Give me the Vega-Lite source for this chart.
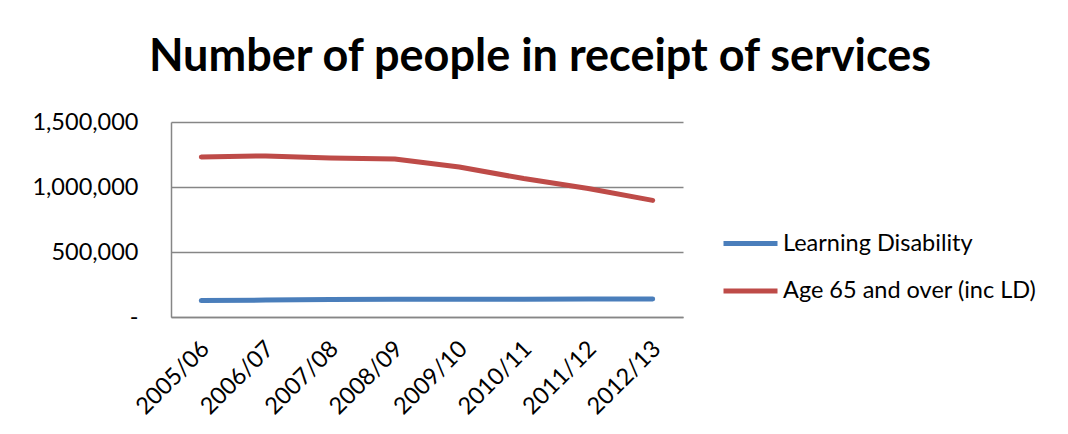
{
  "$schema": "https://vega.github.io/schema/vega-lite/v6.json",
  "width": 512,
  "height": 195,
  "autosize": {"type": "none"},
  "padding": {"left": 171, "top": 122, "right": 385, "bottom": 117},
  "background": "white",
  "title": {
    "text": "Number of people in receipt of services",
    "font": "Lato",
    "fontSize": 45,
    "fontWeight": "bold",
    "color": "black",
    "anchor": "middle",
    "frame": "group",
    "dx": 113,
    "dy": 46,
    "baseline": "alphabetic",
    "offset": 40
  },
  "data": {
    "values": [
      {"year": "2005/06", "series": "Learning Disability", "people": 126000},
      {"year": "2006/07", "series": "Learning Disability", "people": 130000},
      {"year": "2007/08", "series": "Learning Disability", "people": 134000},
      {"year": "2008/09", "series": "Learning Disability", "people": 136000},
      {"year": "2009/10", "series": "Learning Disability", "people": 136000},
      {"year": "2010/11", "series": "Learning Disability", "people": 137000},
      {"year": "2011/12", "series": "Learning Disability", "people": 138000},
      {"year": "2012/13", "series": "Learning Disability", "people": 139000},
      {"year": "2005/06", "series": "Age 65 and over (inc LD)", "people": 1231000},
      {"year": "2006/07", "series": "Age 65 and over (inc LD)", "people": 1239000},
      {"year": "2007/08", "series": "Age 65 and over (inc LD)", "people": 1224000},
      {"year": "2008/09", "series": "Age 65 and over (inc LD)", "people": 1216000},
      {"year": "2009/10", "series": "Age 65 and over (inc LD)", "people": 1154000},
      {"year": "2010/11", "series": "Age 65 and over (inc LD)", "people": 1065000},
      {"year": "2011/12", "series": "Age 65 and over (inc LD)", "people": 988000},
      {"year": "2012/13", "series": "Age 65 and over (inc LD)", "people": 897000}
    ]
  },
  "mark": {"type": "line", "strokeWidth": 5, "strokeCap": "round", "strokeJoin": "round"},
  "encoding": {
    "x": {
      "field": "year",
      "type": "ordinal",
      "scale": {"padding": 0.47},
      "axis": {
        "title": null,
        "labelAngle": -45,
        "labelAlign": "right",
        "labelBaseline": "middle",
        "labelFont": "Lato",
        "labelFontSize": 23.5,
        "labelColor": "black",
        "labelPadding": 28,
        "labelOffset": 4,
        "ticks": false,
        "domain": true,
        "domainColor": "#868686",
        "domainWidth": 1.5,
        "grid": false
      }
    },
    "y": {
      "field": "people",
      "type": "quantitative",
      "scale": {"domain": [0, 1500000], "nice": false},
      "axis": {
        "title": null,
        "values": [0, 500000, 1000000, 1500000],
        "labelExpr": "datum.value == 0 ? '-\u00a0\u00a0' : format(datum.value, ',')",
        "labelFont": "Lato",
        "labelFontSize": 23.5,
        "labelColor": "black",
        "labelPadding": 33,
        "ticks": false,
        "domain": true,
        "domainColor": "#868686",
        "domainWidth": 1.5,
        "grid": true,
        "gridColor": "#868686",
        "gridWidth": 1.5
      }
    },
    "color": {
      "field": "series",
      "type": "nominal",
      "scale": {
        "domain": ["Learning Disability", "Age 65 and over (inc LD)"],
        "range": ["#4A7EBB", "#BE4B48"]
      },
      "legend": {
        "title": null,
        "orient": "none",
        "legendX": 550,
        "legendY": 92,
        "symbolType": "stroke",
        "symbolSize": 2916,
        "symbolStrokeWidth": 5,
        "labelFont": "Lato",
        "labelFontSize": 23.5,
        "labelColor": "black",
        "labelOffset": 3,
        "labelLimit": 0,
        "rowPadding": 6.5,
        "padding": 0
      }
    }
  },
  "config": {"view": {"stroke": null}}
}
